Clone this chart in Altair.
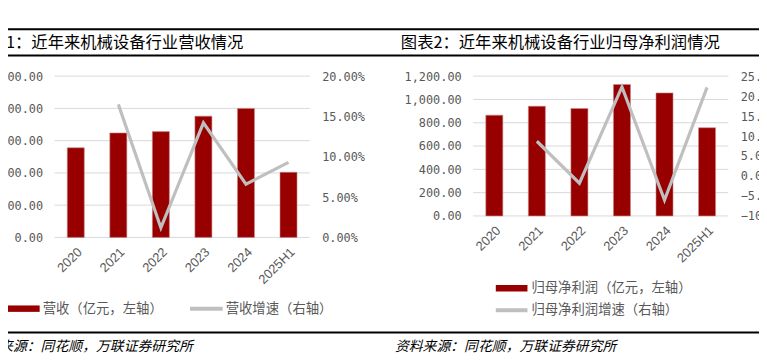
import altair as alt
import pandas as pd

# ---------------- data ----------------
years = ["2020", "2021", "2022", "2023", "2024", "2025H1"]
revenue = [13900, 16200, 16400, 18800, 20000, 10100]          # 亿元
revenue_growth = [None, 0.165, 0.012, 0.142, 0.066, 0.093]
profit = [865, 942, 922, 1128, 1056, 757]                       # 亿元
profit_growth = [None, 0.087, -0.018, 0.223, -0.060, 0.222]

left_ticks = [0, 5000, 10000, 15000, 20000, 25000]
left_pct_ticks = [0.0, 0.05, 0.10, 0.15, 0.20]
right_ticks = [0, 200, 400, 600, 800, 1000, 1200]
right_pct_ticks = [-0.10, -0.05, 0.0, 0.05, 0.10, 0.15, 0.20, 0.25]

title_left = "图表1：近年来机械设备行业营收情况"
title_right = "图表2：近年来机械设备行业归母净利润情况"
legend_left = ["营收（亿元，左轴）", "营收增速（右轴）"]
legend_right = ["归母净利润（亿元，左轴）", "归母净利润增速（右轴）"]
source = "资料来源：同花顺，万联证券研究所"

# ---------------- style ----------------
W, H = 759, 350
RED = "#980000"
GRAY = "#BFBFBF"
GRID = "#D9D9D9"
TXT = "#595959"
CJK = "Noto Sans CJK SC"
NUM = "DejaVu Sans Mono"


def panel(cats, vals, growth, ticks, pct_ticks, x0, x1, y0, y1):
    df = pd.DataFrame({"year": cats, "value": vals, "growth": growth})
    xband = alt.Scale(domain=cats, range=[x0, x1], paddingInner=0.6, paddingOuter=0.3)
    ybar = alt.Scale(domain=[ticks[0], ticks[-1]], range=[y0, y1], nice=False, zero=False)
    ypct = alt.Scale(domain=[pct_ticks[0], pct_ticks[-1]], range=[y0, y1], nice=False, zero=False)
    xpt = alt.Scale(type="point", domain=cats, range=[x0, x1], padding=0.5)

    grid = alt.Chart(pd.DataFrame({"v": ticks})).mark_rule(
        color=GRID, strokeWidth=1
    ).encode(
        y=alt.Y("v:Q", scale=ybar, axis=None),
        x=alt.value(x0), x2=alt.value(x1),
    )
    bars = alt.Chart(df).mark_bar(color=RED, stroke="#C98A8A", strokeWidth=0.6).encode(
        x=alt.X("year:N", scale=xband, sort=cats, title=None,
                axis=alt.Axis(orient="bottom", offset=y0 - H, labelAngle=-45,
                              labelAlign="right", labelBaseline="top",
                              labelFont="Liberation Sans", labelFontSize=13,
                              labelColor=TXT, labelPadding=8, domain=False,
                              ticks=False, grid=False)),
        y=alt.Y("value:Q", scale=ybar, title=None,
                axis=alt.Axis(orient="left", offset=-x0, values=ticks, format=",.2f",
                              labelFont=NUM, labelFontSize=12, labelColor=TXT,
                              labelPadding=12, domain=False, ticks=False, grid=False)),
    )
    line = alt.Chart(df).mark_line(color=GRAY, strokeWidth=3.2).encode(
        x=alt.X("year:N", scale=xpt, sort=cats, axis=None),
        y=alt.Y("growth:Q", scale=ypct, title=None,
                axis=alt.Axis(orient="right", offset=x1 - W, values=pct_ticks, format=".2%",
                              labelFont=NUM, labelFontSize=12, labelColor=TXT,
                              labelPadding=12, domain=False, ticks=False, grid=False)),
    )
    return [grid, bars, line]


def text(t, x, y, size, color="black", align="left", style="normal"):
    return alt.Chart(pd.DataFrame({"t": [t]})).mark_text(
        font=CJK, fontSize=size, color=color, align=align, baseline="middle",
        fontStyle=style,
    ).encode(text="t:N", x=alt.value(x), y=alt.value(y))


def hrule(x0, x1, y, color, width):
    return alt.Chart(pd.DataFrame({"a": [0]})).mark_rule(
        color=color, strokeWidth=width
    ).encode(x=alt.value(x0), x2=alt.value(x1), y=alt.value(y))


def swatch(x0, x1, yc, h, color):
    return alt.Chart(pd.DataFrame({"a": [0]})).mark_rect(color=color).encode(
        x=alt.value(x0), x2=alt.value(x1), y=alt.value(yc - h / 2), y2=alt.value(yc + h / 2)
    )


layers = []
layers += panel(years, revenue, revenue_growth, left_ticks, left_pct_ticks, 47, 305, 230, 67)
layers += panel(years, profit, profit_growth, right_ticks, right_pct_ticks, 470, 728, 208.3, 67)

# frame lines
layers += [hrule(0, W, 19.7, "black", 2), hrule(0, W, 46.2, "black", 2), hrule(0, W, 326, "black", 2)]
# titles
layers += [text(title_left, -35, 34, 16.5), text(title_right, 397, 34, 16.5)]
# legends
layers += [
    swatch(0, 32, 302, 6.5, RED), text(legend_left[0], 35, 302, 13.5, TXT),
    hrule(184, 217, 302, GRAY, 4), text(legend_left[1], 220, 302, 13.5, TXT),
    swatch(493, 525, 281.3, 6.5, RED), text(legend_right[0], 529, 281.3, 13.5, TXT),
    hrule(493, 525, 303.7, GRAY, 4), text(legend_right[1], 529, 303.7, 13.5, TXT),
]
# sources
layers += [text(source, -37, 341, 14, "black", style="italic"),
           text(source, 391, 341, 14, "black", style="italic")]

chart = alt.layer(*layers).resolve_scale(
    x="independent", y="independent"
).properties(
    width=W, height=H, padding=0,
    autosize=alt.AutoSizeParams(type="none"),
    background="white",
).configure_view(stroke=None)

chart.save("out.html", embed_options={"renderer": "svg", "actions": False})
